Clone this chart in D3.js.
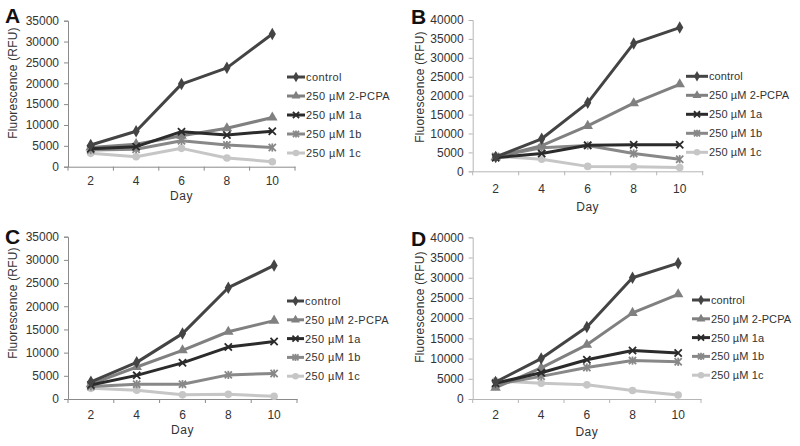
<!DOCTYPE html>
<html><head><meta charset="utf-8">
<script src="https://cdn.jsdelivr.net/npm/d3@7"></script>
<style>
body{margin:0;background:#fff;}
svg text{font-family:"Liberation Sans",Arial,sans-serif;fill:#333;}
</style></head>
<body><svg id="chart" width="800" height="446"></svg>
<script>
const days = ["2","4","6","8","10"];
const seriesNames = ["control","250 \u00b5M 2-PCPA","250 \u00b5M 1a","250 \u00b5M 1b","250 \u00b5M 1c"];
const seriesColors = ["#444444","#808080","#2b2b2b","#888888","#c6c6c6"];
const seriesSymbols = ["diamond","triangle","x","asterisk","circle"];
const ticksA = [0,5000,10000,15000,20000,25000,30000,35000];
const ticksB = [0,5000,10000,15000,20000,25000,30000,35000,40000];

// values per panel: control, 2-PCPA, 1a, 1b, 1c (days 2..10)
const panelA = [
  [5200, 8500, 19800, 23700, 31800],
  [4600, 5400, 7400, 9200, 11800],
  [4300, 4800, 8400, 7600, 8500],
  [4000, 4200, 6200, 5200, 4600],
  [3200, 2400, 4400, 2100, 1200]
];
const panelB = [
  [3800, 8600, 18100, 33800, 38000],
  [3700, 6800, 12000, 18000, 23000],
  [3600, 4700, 6900, 7000, 7000],
  [3900, 6200, 6800, 4700, 3200],
  [4000, 3200, 1300, 1200, 1000]
];
const panelC = [
  [3700, 7900, 14100, 24000, 28800],
  [3200, 6900, 10500, 14500, 16900],
  [3000, 5100, 7800, 11200, 12400],
  [2700, 3200, 3200, 5200, 5500],
  [2300, 1900, 900, 1000, 600]
];
const panelD = [
  [4200, 10000, 17800, 30000, 33600],
  [2800, 7700, 13400, 21300, 25900],
  [3900, 6500, 9700, 12000, 11400],
  [3600, 5600, 7800, 9500, 9200],
  [4500, 3900, 3500, 2100, 1000]
];

const layout = [
  {label:"A", data:panelA, ticks:ticksA, max:35000, x0:68, x1:295, yTop:20.7, yBot:166.7, axisColor:"#8a8a8a",
   titleX:17, titleY:83, tickLabY:181, dayY:196, lx0:287, lx1:305, ly0:77, ldy:19, labX:5, labY:23, lsp:0.4},
  {label:"B", data:panelB, ticks:ticksB, max:40000, x0:472.7, x1:702.7, yTop:20, yBot:171.3, axisColor:"#b5b5b5",
   titleX:424, titleY:87, tickLabY:188.5, dayY:207, lx0:686, lx1:708, ly0:76.3, ldy:19, labX:411, labY:24, lsp:0.1},
  {label:"C", data:panelC, ticks:ticksA, max:35000, x0:68, x1:297, yTop:236.7, yBot:399, axisColor:"#8a8a8a",
   titleX:17, titleY:303, tickLabY:415, dayY:430, lx0:287, lx1:304, ly0:301, ldy:18.8, labX:5, labY:244, lsp:0.4},
  {label:"D", data:panelD, ticks:ticksB, max:40000, x0:472.7, x1:701, yTop:237.3, yBot:399, axisColor:"#b5b5b5",
   titleX:424, titleY:307, tickLabY:415, dayY:431.5, lx0:692, lx1:710, ly0:300, ldy:18.8, labX:411, labY:246, lsp:0.1}
];

const svg = d3.select("#chart");

function drawMarker(g, type, x, y, color, k){
  const s = 3.6*k;
  if(type==="diamond"){
    g.append("path").attr("d", d3.symbol(d3.symbolDiamond, 45*k*k)()).attr("transform",`translate(${x},${y})`).attr("fill",color);
  } else if(type==="triangle"){
    g.append("path").attr("d", d3.symbol(d3.symbolTriangle, 48*k*k)()).attr("transform",`translate(${x},${y})`).attr("fill",color);
  } else if(type==="circle"){
    g.append("circle").attr("cx",x).attr("cy",y).attr("r",3.8*k).attr("fill",color);
  } else if(type==="x" || type==="asterisk"){
    g.append("path").attr("d",`M${x-s},${y-s}L${x+s},${y+s}M${x-s},${y+s}L${x+s},${y-s}`)
      .attr("stroke",color).attr("stroke-width",1.8).attr("fill","none");
    if(type==="asterisk"){
      g.append("path").attr("d",`M${x},${y-s-0.5}L${x},${y+s+0.5}`).attr("stroke",color).attr("stroke-width",1.8);
    }
  }
}

layout.forEach(p=>{
  const g = svg.append("g");
  const x = d3.scaleBand().domain(days).range([p.x0,p.x1]);
  const y = d3.scaleLinear().domain([0,p.max]).range([p.yBot,p.yTop]);

  // y axis
  const ya = g.append("g").attr("transform",`translate(${p.x0},0)`)
    .call(d3.axisLeft(y).tickValues(p.ticks).tickSize(4).tickPadding(5).tickFormat(d3.format("d")));
  ya.select(".domain").attr("stroke",p.axisColor).attr("stroke-width",1);
  ya.selectAll(".tick line").attr("stroke",p.axisColor);
  ya.selectAll("text").attr("font-size",12).attr("fill","#333");

  // x axis
  const xa = g.append("g").attr("transform",`translate(0,${p.yBot})`)
    .call(d3.axisBottom(x).tickSize(0).tickSizeOuter(0));
  xa.select(".domain").attr("stroke",p.axisColor);
  xa.selectAll(".tick line").remove();
  xa.selectAll("text").attr("font-size",12).attr("fill","#333").attr("y",0).attr("dy",null)
    .attr("transform",`translate(0,${p.tickLabY - p.yBot + 4})`);
  // boundary tick marks
  const bounds = days.map(d=>x(d)).concat([p.x1]);
  g.selectAll(null).data(bounds).enter().append("line")
    .attr("x1",d=>d).attr("x2",d=>d).attr("y1",p.yBot).attr("y2",p.yBot+4)
    .attr("stroke",p.axisColor);

  // titles
  g.append("text").attr("transform",`translate(${p.titleX},${p.titleY}) rotate(-90)`)
    .attr("text-anchor","middle").attr("font-size",12).style("letter-spacing","0.2px").text("Fluorescence (RFU)");
  g.append("text").attr("x",(p.x0+p.x1)/2).attr("y",p.dayY+4).attr("text-anchor","middle")
    .attr("font-size",12).style("letter-spacing","0.5px").text("Day");
  g.append("text").attr("x",p.labX).attr("y",p.labY).attr("font-size",21).attr("font-weight","bold")
    .style("fill","#111").text(p.label);

  // series (draw light first so dark on top)
  const line = d3.line().x((d,i)=>x(days[i])+x.bandwidth()/2).y(d=>y(d));
  const order = [4,3,1,2,0];
  order.forEach(si=>{
    const vals = p.data[si];
    g.append("path").datum(vals).attr("d",line).attr("fill","none")
      .attr("stroke",seriesColors[si]).attr("stroke-width",3).attr("stroke-linejoin","round");
    vals.forEach((v,i)=>drawMarker(g, seriesSymbols[si], x(days[i])+x.bandwidth()/2, y(v), seriesColors[si], 1));
  });

  // legend
  seriesNames.forEach((name,si)=>{
    const ly = p.ly0 + si*p.ldy;
    g.append("line").attr("x1",p.lx0).attr("x2",p.lx1).attr("y1",ly).attr("y2",ly)
      .attr("stroke",seriesColors[si]).attr("stroke-width",3);
    drawMarker(g, seriesSymbols[si], (p.lx0+p.lx1)/2, ly, seriesColors[si], 0.85);
    g.append("text").attr("x",p.lx1+1).attr("y",ly+4).attr("font-size",11)
      .style("letter-spacing",p.lsp+"px").text(name);
  });
});
</script></body></html>
